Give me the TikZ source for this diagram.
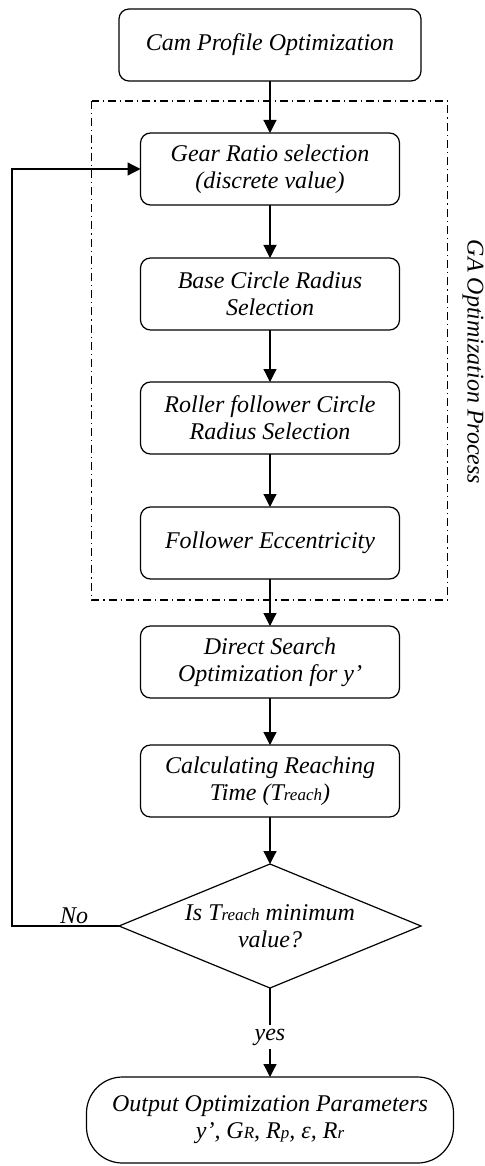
\documentclass[tikz,border=0pt]{standalone}
\usepackage{fontspec}
\setmainfont{Liberation Serif}
\usetikzlibrary{positioning, shapes.geometric, arrows.meta}
\newcommand{\sm}[1]{{\fontsize{8.5}{8.5}\selectfont #1}}

\begin{document}
\begin{tikzpicture}[
  every node/.style={
    font=\fontsize{12}{13.5}\selectfont\itshape,
    align=center
  },
  proc box/.style={
    draw,
    line width=0.6pt,
    rounded corners=5pt,
    minimum width=129.5pt,
    minimum height=36pt,
    inner sep=1mm,
    outer sep=0pt
  },
  move arrow/.style={
    -{Triangle[length=6.5pt,width=6.5pt]},
    line width=0.6pt
  },
  ga box/.style={
    line width=0.6pt,
    dash pattern=on 4pt off 2pt on 0.6pt off 2pt
  }
]
\useasboundingbox (0,0) rectangle (242pt,-583pt);

\node(cam)[proc box, minimum width=151pt] at (135pt,-22.5pt) {Cam Profile Optimization};
\node(gear)[proc box, below=26pt of cam] {Gear Ratio selection\\(discrete value)};
\node(base)[proc box, below=26.5pt of gear] {Base Circle Radius\\Selection};
\node(roller)[proc box, below=26pt of base] {Roller follower Circle\\Radius Selection};
\node(ecc)[proc box, below=26.5pt of roller] {Follower Eccentricity};
\node(search)[proc box, below=23.5pt of ecc] {Direct Search\\Optimization for y’};
\node(treach)[proc box, below=23.5pt of search] {Calculating Reaching\\Time (T\sm{reach})};
\node(check)[draw, line width=0.6pt, diamond, aspect=2.43, inner sep=0pt, outer sep=0pt,
  minimum width=151pt, minimum height=62pt, below=23.5pt of treach]
  {Is T\sm{reach} minimum\\value?};
\node(out)[draw, line width=0.6pt, rounded corners=18pt, minimum width=183.5pt,
  minimum height=43pt, outer sep=0pt, below=44.5pt of check]
  {Output Optimization Parameters\\y’, G\sm{R}, R\sm{p}, ε, R\sm{r}};

% GA part
\draw[ga box] ([xshift=-24.5pt,yshift=16pt]gear.north west) rectangle ([xshift=24pt,yshift=-10.5pt]ecc.south east);
\node(galabel)[rotate=-90] at (236.5pt,-181pt) {GA Optimization Process};

\draw[move arrow] (cam) -- (gear);
\draw[move arrow] (gear) -- (base);
\draw[move arrow] (base) -- (roller);
\draw[move arrow] (roller) -- (ecc);
\draw[move arrow] (ecc) -- (search);
\draw[move arrow] (search) -- (treach);
\draw[move arrow] (treach) -- (check);
\draw[move arrow] (check) -- node[fill=white, inner sep=2pt, pos=0.55] {yes} (out);
\draw[move arrow] (check.west) -- node[above, pos=0.42, inner sep=1pt] {No} ++(-53.5pt,0) |- (gear.west);

\end{tikzpicture}
\end{document}
